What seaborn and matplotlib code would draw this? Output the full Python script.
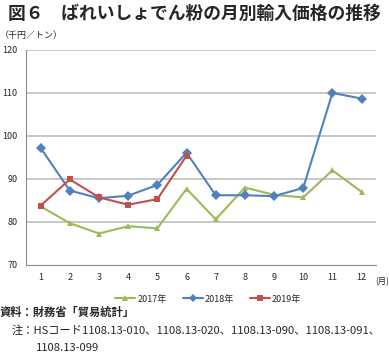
import matplotlib
matplotlib.use("Agg")
import matplotlib.pyplot as plt
import pandas as pd
import seaborn as sns

months = list(range(1, 13))
y2017 = [83.6, 79.7, 77.3, 79.0, 78.5, 87.7, 80.6, 88.0, 86.3, 85.7, 92.0, 87.0]
y2018 = [97.2, 87.3, 85.5, 86.1, 88.6, 96.1, 86.2, 86.2, 86.0, 87.9, 110.0, 108.7]
y2019 = [83.8, 89.9, 85.7, 84.0, 85.3, 95.4]
years = ["2017年", "2018年", "2019年"]
colors = ["#9BBB59", "#4F81BD", "#C0504D"]
markers = ["^", "D", "s"]

rows = []
for yr, vals in zip(years, [y2017, y2018, y2019]):
    for m, v in zip(months, vals):
        rows.append({"month": m, "value": v, "year": yr})
df = pd.DataFrame(rows)

sns.set_style("white")
plt.rcParams["font.family"] = ["Noto Sans CJK JP", "DejaVu Sans"]

fig = plt.figure(figsize=(3.89, 3.57), dpi=100)
ax = fig.add_axes([0.067, 0.258, 0.9, 0.602])

sns.lineplot(data=df, x="month", y="value", hue="year", style="year",
             palette=dict(zip(years, colors)), markers=dict(zip(years, markers)),
             dashes=False, linewidth=1.5, markersize=5, markeredgewidth=0,
             ax=ax, legend=True)

ax.set_xlim(0.5, 12.5)
ax.set_ylim(70, 120)
ax.set_xticks(months)
ax.set_yticks(range(70, 121, 10))
ax.tick_params(axis="both", labelsize=6.5, length=0, pad=6)
ax.set_xlabel("")
ax.set_ylabel("")
for v in range(80, 121, 10):
    ax.axhline(v, color="#BFBFBF", lw=1.2, zorder=0)
for s in ["top", "right"]:
    ax.spines[s].set_visible(False)
ax.spines["left"].set_color("#8C8C8C")
ax.spines["bottom"].set_color("#8C8C8C")

handles, labels = ax.get_legend_handles_labels()
ax.legend(handles, labels, loc="upper center", bbox_to_anchor=(0.52, -0.1),
          ncol=3, frameon=False, fontsize=6.5, handlelength=2.2,
          handletextpad=0.2, columnspacing=1.8, markerscale=0.8)

fig.text(0.02, 0.985, "図６　ばれいしょでん粉の月別輸入価格の推移",
         fontsize=12.8, fontweight="bold", va="top", ha="left")
fig.text(0.0, 0.9, "（千円／トン）", fontsize=6.5, va="center", ha="left")
fig.text(1.0, 0.21, "(月)", fontsize=6, va="center", ha="right")
fig.text(0.0, 0.125, "資料：財務省「貿易統計」", fontsize=8.1, fontweight="bold",
         va="center", ha="left")
fig.text(0.031, 0.075, "注：HSコード1108.13-010、1108.13-020、1108.13-090、1108.13-091、",
         fontsize=8.1, va="center", ha="left")
fig.text(0.093, 0.025, "1108.13-099", fontsize=8.1, va="center", ha="left")

fig.savefig("out.png", dpi=100)
